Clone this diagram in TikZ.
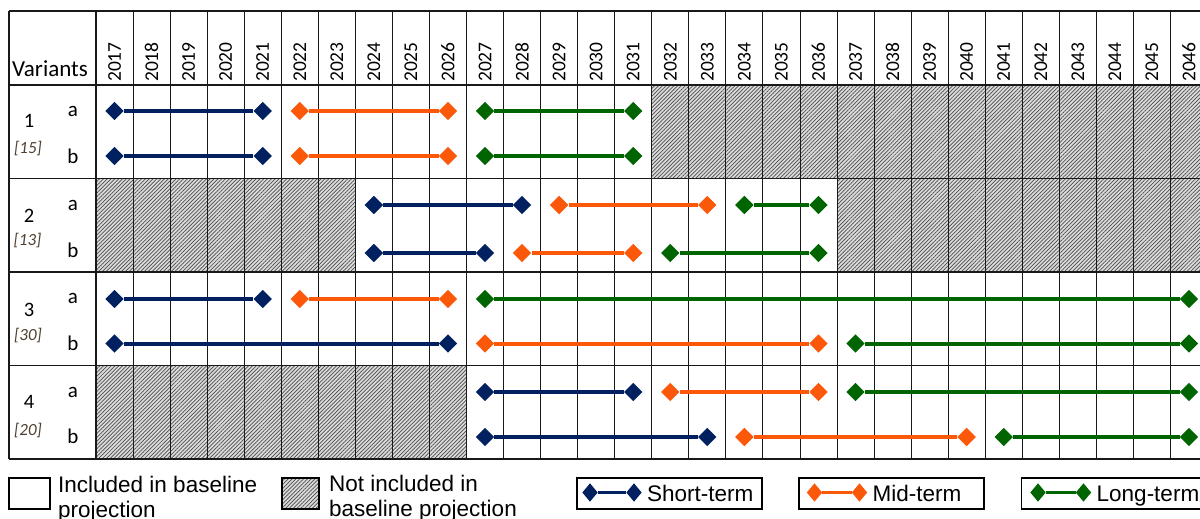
\documentclass[tikz,border=0pt]{standalone}
\usepackage{fontspec}
\setmainfont{Carlito}
\newfontfamily\legendfont{Liberation Sans}
\usetikzlibrary{shapes.geometric,patterns.meta}

\definecolor{shortc}{RGB}{0,32,96}
\definecolor{midc}{RGB}{252,88,10}
\definecolor{longc}{RGB}{0,100,0}
\definecolor{refc}{RGB}{80,64,48}

\tikzset{
  frameline/.style={line width=1.6pt, black!90},
  colline/.style={line width=0.9pt, black!90},
  hatched/.style={preaction={fill=black!14},
    pattern={Lines[angle=45,distance=2.7pt,line width=0.7pt]}, pattern color=black!70},
  dia/.style={diamond, inner sep=0pt, minimum width=18.5pt, minimum height=18.5pt, draw=none},
  shortdia/.style={dia, fill=shortc},
  middia/.style={dia, fill=midc},
  longdia/.style={dia, fill=longc},
  shortln/.style={draw=shortc, line width=4pt},
  midln/.style={draw=midc, line width=4pt},
  longln/.style={draw=longc, line width=4pt},
  keydia/.style={diamond, inner sep=0pt, minimum width=15.5pt, minimum height=18.5pt, draw=none},
  keybox/.style={draw=black, line width=1.2pt, fill=white},
  yearlabel/.style={rotate=90, anchor=west, inner sep=0pt, font=\fontsize{19.5}{20}\selectfont},
  rowlabel/.style={anchor=base, inner sep=0pt, font=\fontsize{21}{22}\selectfont},
  grouplabel/.style={anchor=base, inner sep=0pt, font=\fontsize{20.5}{22}\selectfont},
  reflabel/.style={anchor=center, inner sep=0pt, text=refc, font=\fontsize{17}{18}\selectfont\itshape},
  legendtext/.style={inner sep=0pt, align=left, font=\legendfont\fontsize{22.5}{25}\selectfont},
}

% one bar: name, term (short/mid/long), first year, last year, y
\newcommand\termbar[5]{%
  \pgfmathsetmacro\xfrom{114.5+37.05*(#3-2017)}%
  \pgfmathsetmacro\xto{114.5+37.05*(#4-2017)}%
  \node[#2dia] (#1-from) at (\xfrom,#5) {};
  \node[#2dia] (#1-to) at (\xto,#5) {};
  \draw[#2ln] (#1-from) -- (#1-to);
}

\begin{document}
\begin{tikzpicture}[x=1pt,y=-1pt]
\useasboundingbox (0,0) rectangle (1200,519);
\fill[white] (0,0) rectangle (1200,519);
\clip (0,0) rectangle (1200,519);

% periods outside the baseline projection
\path[hatched] (651.75,85) rectangle (1212,178.5);
\path[hatched] (96,178.5) rectangle (355.35,272);
\path[hatched] (837,178.5) rectangle (1212,272);
\path[hatched] (96,365.5) rectangle (466.5,459);

% grid
\foreach \i in {1,...,30}
  \draw[colline] (96+37.05*\i,11) -- (96+37.05*\i,459);
\foreach \yy in {11,85,178.5,272,365.5,459}
  \draw[frameline] (9,\yy) -- (1212,\yy);
\draw[frameline] (9,11) -- (9,459);
\draw[frameline] (96,11) -- (96,459);

% header
\node[anchor=base west, inner sep=0pt, font=\fontsize{23}{24}\selectfont] (variants) at (12,77) {Variants};
\foreach \yr [count=\k from 0] in {2017,...,2046}
  \node[yearlabel] (yr\yr) at (114.5+37.05*\k,82) {\yr};

% variant labels
\node[grouplabel] (g1) at (29,128) {1};
\node[reflabel] (r1) at (28,148.5) {[15]};
\node[grouplabel] (g2) at (29,222) {2};
\node[reflabel] (r2) at (27.5,241) {[13]};
\node[grouplabel] (g3) at (29,316) {3};
\node[reflabel] (r3) at (28,335.5) {[30]};
\node[grouplabel] (g4) at (29,408) {4};
\node[reflabel] (r4) at (28,431) {[20]};

\node[rowlabel] (g1a) at (73,117) {a};
\node[rowlabel] (g1b) at (73,163) {b};
\node[rowlabel] (g2a) at (73,210) {a};
\node[rowlabel] (g2b) at (73,257) {b};
\node[rowlabel] (g3a) at (73,303) {a};
\node[rowlabel] (g3b) at (73,350) {b};
\node[rowlabel] (g4a) at (73,397) {a};
\node[rowlabel] (g4b) at (73,443) {b};

% bars
\termbar{v1a-s}{short}{2017}{2021}{111}
\termbar{v1a-m}{mid}{2022}{2026}{111}
\termbar{v1a-l}{long}{2027}{2031}{111}
\termbar{v1b-s}{short}{2017}{2021}{156}
\termbar{v1b-m}{mid}{2022}{2026}{156}
\termbar{v1b-l}{long}{2027}{2031}{156}

\termbar{v2a-s}{short}{2024}{2028}{205}
\termbar{v2a-m}{mid}{2029}{2033}{205}
\termbar{v2a-l}{long}{2034}{2036}{205}
\termbar{v2b-s}{short}{2024}{2027}{253}
\termbar{v2b-m}{mid}{2028}{2031}{253}
\termbar{v2b-l}{long}{2032}{2036}{253}

\termbar{v3a-s}{short}{2017}{2021}{299}
\termbar{v3a-m}{mid}{2022}{2026}{299}
\termbar{v3a-l}{long}{2027}{2046}{299}
\termbar{v3b-s}{short}{2017}{2026}{343.5}
\termbar{v3b-m}{mid}{2027}{2036}{343.5}
\termbar{v3b-l}{long}{2037}{2046}{343.5}

\termbar{v4a-s}{short}{2027}{2031}{392}
\termbar{v4a-m}{mid}{2032}{2036}{392}
\termbar{v4a-l}{long}{2037}{2046}{392}
\termbar{v4b-s}{short}{2027}{2033}{437}
\termbar{v4b-m}{mid}{2034}{2040}{437}
\termbar{v4b-l}{long}{2041}{2046}{437}

% legend
\draw[keybox] (9,478) rectangle (50,509);
\node[legendtext, anchor=north west] (incl) at (58,475.5) {Included in baseline\\projection};
\draw[line width=1.2pt, black, hatched] (282,478) rectangle (319,509);
\node[legendtext, anchor=north west] (notincl) at (329,475.3) {Not included in\\baseline projection};

\draw[keybox] (577,478) rectangle (762,509);
\node[keydia, fill=shortc] (ks1) at (590,492.5) {};
\node[keydia, fill=shortc] (ks2) at (634,492.5) {};
\draw[draw=shortc, line width=3pt] (ks1) -- (ks2);
\node[legendtext, anchor=base west] (kst) at (647,501) {Short-term};

\draw[keybox] (799,478) rectangle (984,509);
\node[keydia, fill=midc] (km1) at (814.5,492.5) {};
\node[keydia, fill=midc] (km2) at (859.5,492.5) {};
\draw[draw=midc, line width=3pt] (km1) -- (km2);
\node[legendtext, anchor=base west] (kmt) at (872.5,501) {Mid-term};

\draw[keybox] (1021.5,478) rectangle (1215,509);
\node[keydia, fill=longc] (kl1) at (1038,492.5) {};
\node[keydia, fill=longc] (kl2) at (1083.5,492.5) {};
\draw[draw=longc, line width=3pt] (kl1) -- (kl2);
\node[legendtext, anchor=base west] (klt) at (1096.5,501) {Long-term};
\end{tikzpicture}
\end{document}
